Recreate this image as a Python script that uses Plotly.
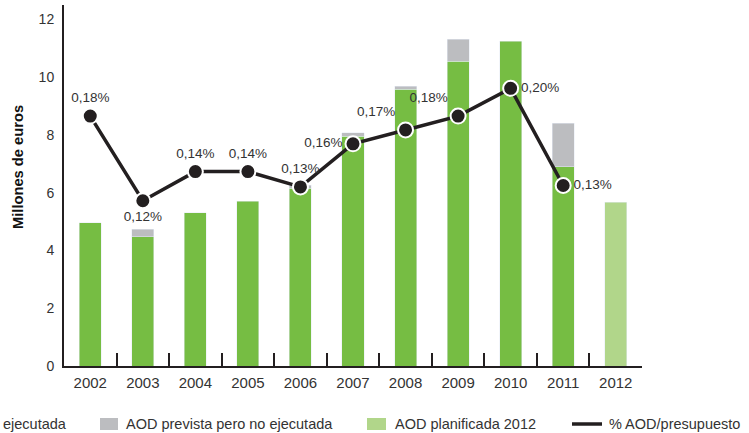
import plotly.graph_objects as go

years = ["2002", "2003", "2004", "2005", "2006", "2007", "2008", "2009", "2010", "2011", "2012"]
aod_ejecutada = [4.96, 4.47, 5.30, 5.71, 6.16, 7.96, 9.58, 10.55, 11.25, 6.90, None]
aod_no_ejecutada = [None, 0.27, None, None, 0.10, 0.11, 0.11, 0.76, None, 1.51, None]
aod_planificada = [None] * 10 + [5.67]
pct_years = years[:10]
pct_aod = [0.180, 0.119, 0.140, 0.140, 0.129, 0.160, 0.170, 0.180, 0.200, 0.130]
pct_labels = ["0,18%", "0,12%", "0,14%", "0,14%", "0,13%", "0,16%", "0,17%", "0,18%", "0,20%", "0,13%"]
pct_pos = ["top center", "bottom center", "top center", "top center", "top center",
           "middle left", "top left", "top left", "middle right", "middle right"]

GREEN = "#76bd43"
GRAY = "#bcbdc0"
LIGHT = "#b1d68a"
DARK = "#231f20"
FONT = "Liberation Sans"

fig = go.Figure()
fig.add_bar(x=years, y=aod_ejecutada, marker_color=GREEN, name="AOD ejecutada")
fig.add_bar(x=years, y=aod_no_ejecutada, marker_color=GRAY, name="AOD prevista pero no ejecutada")
fig.add_bar(x=years, y=aod_planificada, marker_color=LIGHT, name="AOD planificada 2012")
fig.add_scatter(x=pct_years, y=pct_aod, yaxis="y2", mode="lines+markers+text",
                line=dict(color=DARK, width=3.5),
                marker=dict(size=15, color=DARK, line=dict(color="white", width=2)),
                text=pct_labels, textposition=pct_pos,
                textfont=dict(family=FONT, size=13.5, color="#333"),
                name="% AOD/presupuesto", cliponaxis=False)

# legend drawn by hand: in the source the first entry runs off the left edge,
# only "ejecutada" is left of it
L, R, T, B = 64, 107, 5, 67
W, H = 749 - L - R, 433 - T - B


def px(x):
    return (x - L) / W


def py(y):
    return (433 - B - y) / H


legend_y = 424
swatches = [(100, 118, GRAY), (367, 386, LIGHT)]
for x0, x1, c in swatches:
    fig.add_shape(type="rect", xref="paper", yref="paper", x0=px(x0), x1=px(x1),
                  y0=py(430), y1=py(418), fillcolor=c, line_width=0)
fig.add_shape(type="line", xref="paper", yref="paper", x0=px(572), x1=px(602),
              y0=py(legend_y), y1=py(legend_y), line=dict(color=DARK, width=3.5))
for x, t in [(1, "ejecutada"), (124, "AOD prevista pero no ejecutada"),
             (393, "AOD planificada 2012"), (607, "% AOD/presupuesto")]:
    fig.add_annotation(xref="paper", yref="paper", x=px(x), y=py(legend_y), text=t,
                       showarrow=False, xanchor="left", yanchor="middle",
                       font=dict(family=FONT, size=14.5, color="#333"))

fig.add_annotation(xref="paper", yref="paper", x=px(18), y=py(167), text="<b>Millones de euros</b>",
                   textangle=-90, showarrow=False, xanchor="center", yanchor="middle",
                   font=dict(family=FONT, size=14.7, color="#111"))

fig.update_layout(
    width=749, height=433, barmode="stack", bargap=0.58, showlegend=False,
    plot_bgcolor="white", paper_bgcolor="white",
    margin=dict(l=L, r=R, t=T, b=B, autoexpand=False),
    font=dict(family=FONT, size=14, color="#333"),
    xaxis=dict(type="category", range=[-0.5, 10.5], showline=True, linecolor=DARK, linewidth=2,
               ticks="inside", tickson="boundaries", ticklen=13, tickwidth=2, tickcolor=DARK,
               showgrid=False, ticklabelstandoff=2, tickfont=dict(size=15, color="#333")),
    yaxis=dict(range=[0, 12.5], tickvals=[0, 2, 4, 6, 8, 10, 12], showline=True,
               linecolor=DARK, linewidth=2, showgrid=False, zeroline=False, ticks="",
               ticklabelstandoff=5, tickfont=dict(size=14, color="#333")),
    yaxis2=dict(range=[0, 0.26], overlaying="y", visible=False),
)

# page body has a default 8px margin; drop it so the figure fills the window
fig.write_html("out.html", config={"displayModeBar": False},
               post_script="document.body.style.margin='0px';")
